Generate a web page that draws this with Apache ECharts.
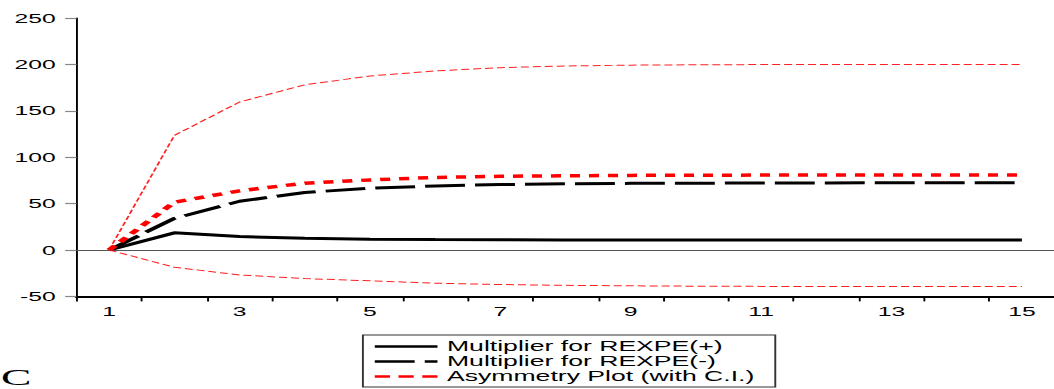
<!DOCTYPE html>
<html><head><meta charset="utf-8">
<script src="https://cdn.jsdelivr.net/npm/echarts@6/dist/echarts.min.js"></script>
<style>
html,body{margin:0;padding:0;overflow:hidden;background:#fff;width:1054px;height:389px;}
#c{width:555px;height:389px;transform:scaleX(1.9);transform-origin:0 0;}
</style></head><body><div id="c"></div>
<script>
// ---- data ----
const categories = ['1','2','3','4','5','6','7','8','9','10','11','12','13','14','15'];
const multPos   = [0, 18.5, 14.5, 12.6, 11.7, 11.2, 11.0, 10.9, 10.8, 10.8, 10.8, 10.8, 10.8, 10.8, 10.8];
const multNeg   = [0, 34.0, 52.5, 62.0, 66.5, 69.0, 70.5, 71.3, 71.8, 72.0, 72.2, 72.3, 72.4, 72.4, 72.4];
const asymmetry = [0, 51.5, 63.8, 72.0, 75.5, 78.2, 79.4, 80.0, 80.4, 80.6, 80.7, 80.8, 80.8, 80.8, 80.8];
const ciUpper   = [0, 123.5, 159.5, 178.0, 187.5, 193.0, 196.5, 198.3, 199.2, 199.6, 199.8, 199.9, 200.0, 200.0, 200.0];
const ciLower   = [0, -18.6, -26.9, -30.8, -33.2, -35.8, -37.2, -38.1, -38.6, -39.0, -39.2, -39.3, -39.4, -39.4, -39.4];
const yMin = -50, yMax = 250, yStep = 50;
const legendNames = ['Multiplier for REXPE(+)', 'Multiplier for REXPE(-)', 'Asymmetry Plot (with C.I.)'];
const stray = 'C';

const FONT = 'Liberation Sans';
const chart = echarts.init(document.getElementById('c'), null, {renderer: 'svg'});
chart.setOption({
  animation: false,
  backgroundColor: '#fff',
  grid: {left: 40.3, top: 18, width: 515.3, height: 278.4, containLabel: false},
  xAxis: {
    type: 'category', data: categories, boundaryGap: true,
    axisLine: {onZero: false, lineStyle: {color: '#000', width: 2}},
    axisTick: {show: true, interval: 0, alignWithLabel: false, length: 5, lineStyle: {color: '#000', width: 1}},
    axisLabel: {interval: 1, color: '#000', fontFamily: FONT, fontSize: 13, margin: 8},
    splitLine: {show: false}
  },
  yAxis: {
    type: 'value', min: yMin, max: yMax, interval: yStep,
    axisLine: {show: true, lineStyle: {color: '#000', width: 1}},
    axisTick: {show: true, length: 6, lineStyle: {color: '#888', width: 1.2}},
    axisLabel: {color: '#000', fontFamily: FONT, fontSize: 13, margin: 11},
    splitLine: {show: false}
  },
  legend: {
    data: [
      {name: legendNames[0]},
      {name: legendNames[1]},
      {name: legendNames[2], lineStyle: {type: [8, 4.5]}}
    ],
    orient: 'vertical', left: 191, top: 335,
    itemWidth: 33, itemHeight: 12, itemGap: 0,
    padding: [4, 11, 3, 5],
    borderColor: '#333', borderWidth: 1, borderRadius: 0,
    lineStyle: {width: 2.5},
    itemStyle: {opacity: 0, borderWidth: 0},
    textStyle: {color: '#000', fontFamily: FONT, fontSize: 14, lineHeight: 15},
    selectedMode: false
  },
  graphic: [{
    type: 'text', silent: true,
    style: {text: stray, x: 0.5, y: 377, align: 'left', verticalAlign: 'middle',
            font: '24px "Liberation Serif"', fill: '#000'}
  }],
  series: [
    {name: legendNames[0], type: 'line', data: multPos, symbol: 'none', z: 3,
     lineStyle: {color: '#000', width: 3, type: 'solid'}, itemStyle: {color: '#000'},
     markLine: {silent: true, symbol: 'none', label: {show: false}, z: 1,
       lineStyle: {color: '#555', width: 1, type: 'solid'}, data: [{yAxis: 0}]}},
    {name: legendNames[1], type: 'line', data: multNeg, symbol: 'none', z: 3,
     lineStyle: {color: '#000', width: 3, type: [21, 5.3]}, itemStyle: {color: '#000'}},
    {name: 'CI upper', type: 'line', data: ciUpper, symbol: 'none', z: 4,
     lineStyle: {color: '#ff2020', width: 1, type: [4.2, 2.1]}, itemStyle: {color: '#ff2020'}},
    {name: 'CI lower', type: 'line', data: ciLower, symbol: 'none', z: 4,
     lineStyle: {color: '#ff2020', width: 1, type: [4.2, 2.1]}, itemStyle: {color: '#ff2020'}},
    {name: legendNames[2], type: 'line', data: asymmetry, symbol: 'none', z: 5,
     lineStyle: {color: '#ff0000', width: 3.5, type: [5.3, 4.7]}, itemStyle: {color: '#ff0000'}}
  ]
});
</script></body></html>
